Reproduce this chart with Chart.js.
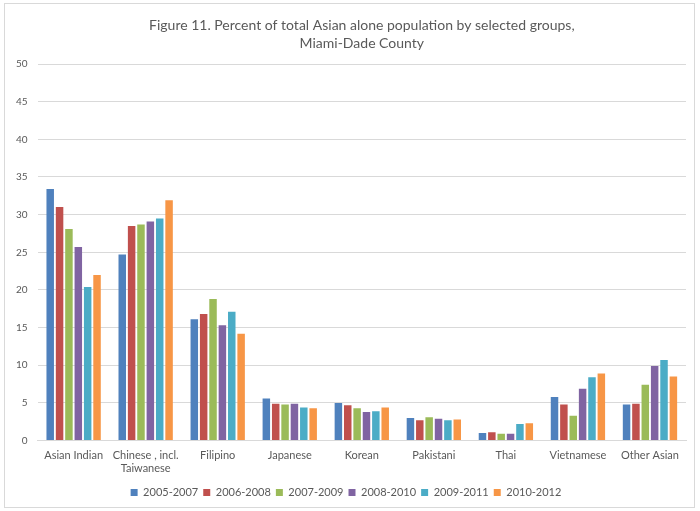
<!DOCTYPE html>
<html>
<head>
<meta charset="utf-8">
<script src="https://cdn.jsdelivr.net/npm/chart.js@4"></script>
<style>
	body { margin: 0; background: #fff; }
	#wrap { position: absolute; left: 0; top: 0; width: 700px; height: 511px; }
</style>
</head>
<body>
<div id="wrap"><canvas id="chart" width="700" height="511"></canvas></div>
<script>
// data
const groups = ['Asian Indian', ['Chinese , incl.', 'Taiwanese'], 'Filipino', 'Japanese', 'Korean', 'Pakistani', 'Thai', 'Vietnamese', 'Other Asian'];
const periods = ['2005-2007', '2006-2008', '2007-2009', '2008-2010', '2009-2011', '2010-2012'];
const v2005 = [33.4, 24.7, 16.1, 5.6, 5.0, 3.0, 1.0, 5.8, 4.8];
const v2006 = [31.0, 28.5, 16.8, 4.9, 4.7, 2.7, 1.1, 4.8, 4.9];
const v2007 = [28.1, 28.7, 18.8, 4.8, 4.3, 3.1, 0.9, 3.3, 7.4];
const v2008 = [25.7, 29.1, 15.3, 4.9, 3.8, 2.9, 0.9, 6.9, 9.9];
const v2009 = [20.4, 29.5, 17.1, 4.4, 3.9, 2.7, 2.2, 8.4, 10.7];
const v2010 = [22.0, 31.9, 14.2, 4.3, 4.4, 2.8, 2.3, 8.9, 8.5];
const colors = ['#4F81BD', '#C0504D', '#9BBB59', '#8064A2', '#4BACC6', '#F79646'];
const yTicks = [0, 5, 10, 15, 20, 25, 30, 35, 40, 45, 50];
const titleLines = ['Figure 11. Percent of total Asian alone population by selected groups,', 'Miami-Dade County'];

const series = [v2005, v2006, v2007, v2008, v2009, v2010];

// white background, outer frame, and title centred over the plot area
const frame = {
	id: 'frame',
	beforeDraw: function (chart) {
		const c = chart.ctx;
		c.save();
		c.fillStyle = '#fff';
		c.fillRect(0, 0, chart.width, chart.height);
		c.strokeStyle = '#d9d9d9';
		c.lineWidth = 1;
		c.strokeRect(4.5, 3.5, 690, 504);
		c.restore();
	},
	afterDraw: function (chart) {
		const c = chart.ctx;
		const a = chart.chartArea;
		const cx = (a.left + a.right) / 2;
		c.save();
		c.fillStyle = '#595959';
		c.font = '14px Lato';
		c.textAlign = 'center';
		c.textBaseline = 'middle';
		c.fillText(titleLines[0], cx, 25);
		c.fillText(titleLines[1], cx, 43);
		c.restore();
	}
};

new Chart(document.getElementById('chart'), {
	type: 'bar',
	data: {
		labels: groups,
		datasets: series.map(function (vals, i) {
			return {
				label: periods[i],
				data: vals,
				backgroundColor: colors[i],
				borderWidth: 0,
				barPercentage: 0.8,
				categoryPercentage: 0.78
			};
		})
	},
	options: {
		responsive: false,
		animation: false,
		layout: { padding: { left: 6, right: 14, top: 64, bottom: 3 } },
		plugins: {
			title: { display: false },
			legend: {
				position: 'bottom',
				labels: {
					boxWidth: 7,
					boxHeight: 7,
					padding: 5,
					color: '#595959',
					font: { family: 'Lato', size: 11 }
				}
			},
			tooltip: { enabled: false }
		},
		scales: {
			x: {
				grid: { display: false, drawTicks: false },
				border: { color: '#d9d9d9', width: 1 },
				ticks: {
					color: '#595959',
					font: { family: 'Lato', size: 11 },
					maxRotation: 0,
					autoSkip: false,
					padding: 8
				},
				afterFit: function (axis) {
					axis.height -= 1;
				}
			},
			y: {
				min: 0,
				max: 50,
				afterBuildTicks: function (axis) {
					axis.ticks = yTicks.map(function (v) { return { value: v }; });
				},
				grid: { color: '#d9d9d9', drawTicks: false },
				border: { display: false },
				ticks: {
					color: '#595959',
					font: { family: 'Lato', size: 10 },
					padding: 10
				}
			}
		}
	},
	plugins: [frame]
});
</script>
</body>
</html>
